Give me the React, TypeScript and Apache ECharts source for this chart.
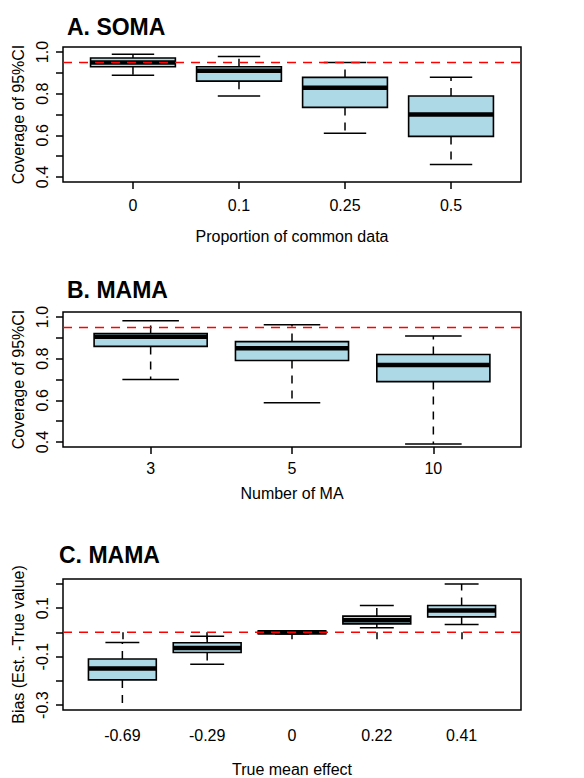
import React, { useEffect, useRef } from "react";
import * as echarts from "echarts";

// Panel A: SOMA
const aCats = ["0", "0.1", "0.25", "0.5"];
const aLow = [0.889, 0.789, 0.61, 0.46];
const aQ1 = [0.929, 0.86, 0.734, 0.595];
const aMed = [0.95, 0.91, 0.829, 0.7];
const aQ3 = [0.971, 0.929, 0.878, 0.789];
const aHigh = [0.989, 0.979, 0.95, 0.879];
const aRef = 0.95;

// Panel B: MAMA, number of MA
const bCats = ["3", "5", "10"];
const bLow = [0.7, 0.589, 0.39];
const bQ1 = [0.859, 0.791, 0.69];
const bMed = [0.905, 0.85, 0.77];
const bQ3 = [0.921, 0.882, 0.82];
const bHigh = [0.982, 0.963, 0.909];
const bRef = 0.95;

// Panel C: MAMA, bias
const cCats = ["-0.69", "-0.29", "0", "0.22", "0.41"];
const cLow = [-0.36, -0.131, -0.007, 0.019, 0.032];
const cQ1 = [-0.196, -0.083, -0.005, 0.035, 0.064];
const cMed = [-0.149, -0.064, 0, 0.05, 0.09];
const cQ3 = [-0.11, -0.043, 0.005, 0.067, 0.111];
const cHigh = [-0.042, -0.016, 0.007, 0.111, 0.199];
const cRef = 0;

const covTicks = [0.4, 0.5, 0.6, 0.7, 0.8, 0.9, 1.0];
const covLabels = [0.4, 0.6, 0.8, 1.0];
const biasTicks = [-0.3, -0.2, -0.1, 0, 0.1, 0.2];
const biasLabels = [-0.3, -0.1, 0.1];

const FONT = "Liberation Sans, Arial, Helvetica, sans-serif";

function boxData(low: number[], q1: number[], med: number[], q3: number[], high: number[]) {
  return low.map((_, i) => [i + 1, low[i], q1[i], med[i], q3[i], high[i]]);
}

function renderBox(params: any, api: any) {
  const x = api.value(0);
  const low = api.value(1);
  const q1 = api.value(2);
  const med = api.value(3);
  const q3 = api.value(4);
  const high = api.value(5);
  const cs = params.coordSys;
  const top = cs.y;
  const bot = cs.y + cs.height;
  const cx = api.coord([x, med])[0];
  const hw = api.size([0.8, 0])[0] / 2;
  const cw = api.size([0.4, 0])[0] / 2;
  const yLow = api.coord([x, low])[1];
  const yQ1 = api.coord([x, q1])[1];
  const yMed = api.coord([x, med])[1];
  const yQ3 = api.coord([x, q3])[1];
  const yHigh = api.coord([x, high])[1];
  const cl = (y: number) => Math.max(top, Math.min(bot, y));
  const whisk = { stroke: "#000", lineWidth: 1.5, lineDash: [8, 7] };
  const solid = { stroke: "#000", lineWidth: 1.5 };
  const children: any[] = [];
  children.push({ type: "line", shape: { x1: cx, y1: yQ3, x2: cx, y2: cl(yHigh) }, style: whisk });
  children.push({ type: "line", shape: { x1: cx, y1: yQ1, x2: cx, y2: cl(yLow) }, style: whisk });
  if (yHigh >= top) children.push({ type: "line", shape: { x1: cx - cw, y1: yHigh, x2: cx + cw, y2: yHigh }, style: solid });
  if (yLow <= bot) children.push({ type: "line", shape: { x1: cx - cw, y1: yLow, x2: cx + cw, y2: yLow }, style: solid });
  children.push({
    type: "rect",
    shape: { x: cx - hw, y: yQ3, width: 2 * hw, height: yQ1 - yQ3 },
    style: { fill: "#ADD8E6", stroke: "#000", lineWidth: 1.6 },
  });
  children.push({ type: "line", shape: { x1: cx - hw, y1: yMed, x2: cx + hw, y2: yMed }, style: { stroke: "#000", lineWidth: 4.5 } });
  return { type: "group", children };
}

export default function App() {
  const ref = useRef<HTMLDivElement>(null);
  useEffect(() => {
    if (!ref.current) return;
    const chart = echarts.init(ref.current, null, { renderer: "svg" });

    const panels = [
      { cats: aCats, data: boxData(aLow, aQ1, aMed, aQ3, aHigh), refV: aRef, xmin: 0.34, xmax: 4.66, ymin: 0.376, ymax: 1.024, ticks: covTicks, labels: covLabels, xName: "Proportion of common data", yName: "Coverage of 95%CI", xNameGap: 46, xLabelMargin: 15, p: [1, 0.6] },
      { cats: bCats, data: boxData(bLow, bQ1, bMed, bQ3, bHigh), refV: bRef, xmin: 0.38, xmax: 3.62, ymin: 0.376, ymax: 1.024, ticks: covTicks, labels: covLabels, xName: "Number of MA", yName: "Coverage of 95%CI", xNameGap: 38, xLabelMargin: 13, p: [0.8, 0.6] },
      { cats: cCats, data: boxData(cLow, cQ1, cMed, cQ3, cHigh), refV: cRef, xmin: 0.3, xmax: 5.7, ymin: -0.32, ymax: 0.22, ticks: biasTicks, labels: biasLabels, xName: "True mean effect", yName: "Bias (Est. -True value)", xNameGap: 51, xLabelMargin: 17, p: [1, 0.1] },
    ];

    const grids = [
      { left: 63, top: 47, width: 458, height: 135 },
      { left: 63, top: 312, width: 458, height: 135 },
      { left: 63, top: 579, width: 458, height: 133 },
    ];

    const option: any = {
      animation: false,
      backgroundColor: "#fff",
      title: [
        { text: "A. SOMA", left: 67, top: 15 },
        { text: "B. MAMA", left: 67, top: 278 },
        { text: "C. MAMA", left: 59, top: 543 },
      ].map((t) => ({ ...t, padding: 0, textStyle: { fontFamily: FONT, fontSize: 23, fontWeight: "bold", color: "#000" } })),
      grid: grids.map((g) => ({ ...g, show: true, borderColor: "#000", borderWidth: 1.5, backgroundColor: "transparent" })),
      xAxis: panels.map((p, i) => ({
        gridIndex: i,
        type: "value",
        min: p.xmin,
        max: p.xmax,
        axisLine: { show: false },
        splitLine: { show: false },
        axisTick: { show: true, customValues: p.cats.map((_, k) => k + 1), length: 7, lineStyle: { color: "#000", width: 1.5 } },
        axisLabel: {
          customValues: p.cats.map((_, k) => k + 1),
          formatter: (v: number) => p.cats[Math.round(v) - 1] ?? "",
          margin: p.xLabelMargin,
          color: "#000",
          fontSize: 16,
          fontFamily: FONT,
        },
        name: p.xName,
        nameLocation: "middle",
        nameGap: p.xNameGap,
        nameTextStyle: { color: "#000", fontSize: 16, fontFamily: FONT },
      })),
      yAxis: panels.map((p, i) => ({
        gridIndex: i,
        type: "value",
        min: p.ymin,
        max: p.ymax,
        axisLine: { show: false },
        splitLine: { show: false },
        axisTick: { show: true, customValues: p.ticks, length: 7, lineStyle: { color: "#000", width: 1.5 } },
        axisLabel: {
          customValues: p.labels,
          formatter: (v: number) => v.toFixed(1),
          rotate: 90,
          margin: 13,
          color: "#000",
          fontSize: 16,
          fontFamily: FONT,
        },
        name: p.yName,
        nameLocation: "middle",
        nameGap: 37,
        nameTextStyle: { color: "#000", fontSize: 16, fontFamily: FONT },
      })),
      series: panels.flatMap((p, i) => [
        {
          type: "custom",
          xAxisIndex: i,
          yAxisIndex: i,
          renderItem: renderBox,
          data: p.data,
          encode: { x: 0, y: [1, 2, 3, 4, 5] },
          z: 2,
        },
        {
          type: "line",
          xAxisIndex: i,
          yAxisIndex: i,
          data: [[p.xmin, p.refV], [p.xmax, p.refV]],
          symbol: "none",
          lineStyle: { color: "#ff0000", width: 1.5, type: [9, 7] },
          z: 5,
          silent: true,
        },
        {
          type: "scatter",
          xAxisIndex: i,
          yAxisIndex: i,
          data: [p.p],
          symbolSize: 1,
          itemStyle: { opacity: 0 },
          label: { show: true, position: "inside", formatter: "p<0.001", color: "#000", fontSize: 15, fontFamily: FONT },
          z: 6,
          silent: true,
        },
      ]),
    };
    chart.setOption(option);
    return () => chart.dispose();
  }, []);
  return <div ref={ref} style={{ position: "absolute", left: 0, top: 0, width: 584, height: 778, background: "#fff" }} />;
}
